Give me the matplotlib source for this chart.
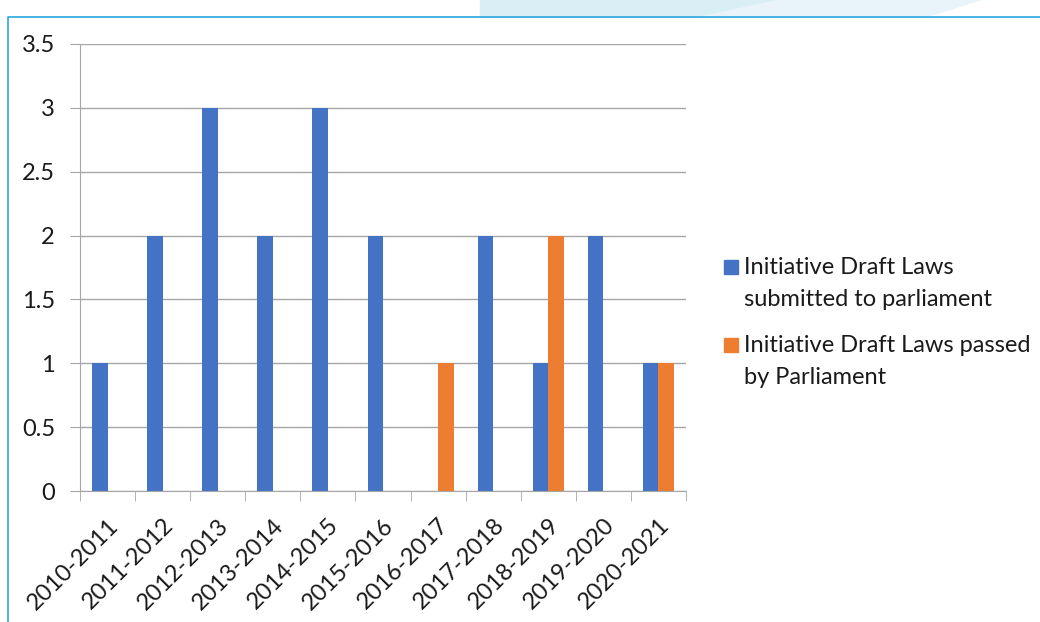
import numpy as np
import matplotlib.pyplot as plt
from matplotlib.patches import Rectangle, Polygon
from matplotlib.lines import Line2D

years = ['2010-2011', '2011-2012', '2012-2013', '2013-2014', '2014-2015', '2015-2016',
         '2016-2017', '2017-2018', '2018-2019', '2019-2020', '2020-2021']
submitted = [1, 2, 3, 2, 3, 2, 0, 2, 1, 2, 1]
passed = [0, 0, 0, 0, 0, 0, 1, 0, 2, 0, 1]
labels = ['Initiative Draft Laws\nsubmitted to parliament',
          'Initiative Draft Laws passed\nby Parliament']
colors = ['#4472c4', '#ed7d31']

plt.rcParams['font.family'] = ['Lato', 'DejaVu Sans']
txt = '#1a1a1a'
W, H = 1040, 622

fig = plt.figure(figsize=(10.4, 6.22), dpi=100)

# decorative light blue header shapes and frame
fig.patches.append(Polygon([[480/W, 1], [480/W, 1-17/H], [1040/W, 1-17/H], [1040/W, 1]],
                           closed=True, transform=fig.transFigure, color='#d9eff5', zorder=0))
fig.patches.append(Polygon([[780/W, 1], [700/W, 1-17/H], [930/W, 1-17/H], [985/W, 1]],
                           closed=True, transform=fig.transFigure, color='#e8f4fa', zorder=0))
fig.patches.append(Polygon([[985/W, 1], [930/W, 1-17/H], [1040/W, 1-17/H], [1040/W, 1]],
                           closed=True, transform=fig.transFigure, color='#ffffff', zorder=0))
fig.lines.append(Line2D([8/W, 8/W, 1], [0, 1-17/H, 1-17/H], transform=fig.transFigure,
                        color='#29a8e0', lw=1.2))

ax = fig.add_axes([80/W, 1-491/H, 606/W, 447/H])
x = np.arange(len(years))
bw = 0.28
ax.bar(x - bw/2, submitted, bw, color=colors[0], zorder=2)
ax.bar(x + bw/2, passed, bw, color=colors[1], zorder=2)

ax.set_xlim(-0.5, len(years) - 0.5)
ax.set_ylim(0, 3.5)
ax.set_yticks(np.arange(0, 3.51, 0.5))
ax.set_yticklabels(['0', '0.5', '1', '1.5', '2', '2.5', '3', '3.5'])
ax.yaxis.grid(True, color='#a6a6a6', lw=1, zorder=0)
ax.set_xticks(x)
ax.set_xticklabels(years, rotation=45, ha='right', rotation_mode='anchor')
ax.set_xticks(np.arange(-0.5, len(years)), minor=True)
ax.tick_params(axis='x', which='major', length=0, pad=17, labelsize=17, labelcolor=txt)
ax.tick_params(axis='x', which='minor', length=7, color='#a6a6a6', direction='out')
ax.tick_params(axis='y', length=7, color='#a6a6a6', labelsize=17, labelcolor=txt, pad=11)
for s in ['top', 'right']:
    ax.spines[s].set_visible(False)
for s in ['left', 'bottom']:
    ax.spines[s].set_color('#a6a6a6')

# legend
for i, (lab, c) in enumerate(zip(labels, colors)):
    y0 = 1 - (267 + i * 78) / H
    fig.patches.append(Rectangle((724/W, y0 - 7/H), 14/W, 14/H, transform=fig.transFigure,
                                 color=c))
    fig.text(744/W, y0 + 10/H, lab, fontsize=17, color=txt, va='top', ha='left',
             linespacing=1.65)

fig.savefig('out.png', dpi=100)
